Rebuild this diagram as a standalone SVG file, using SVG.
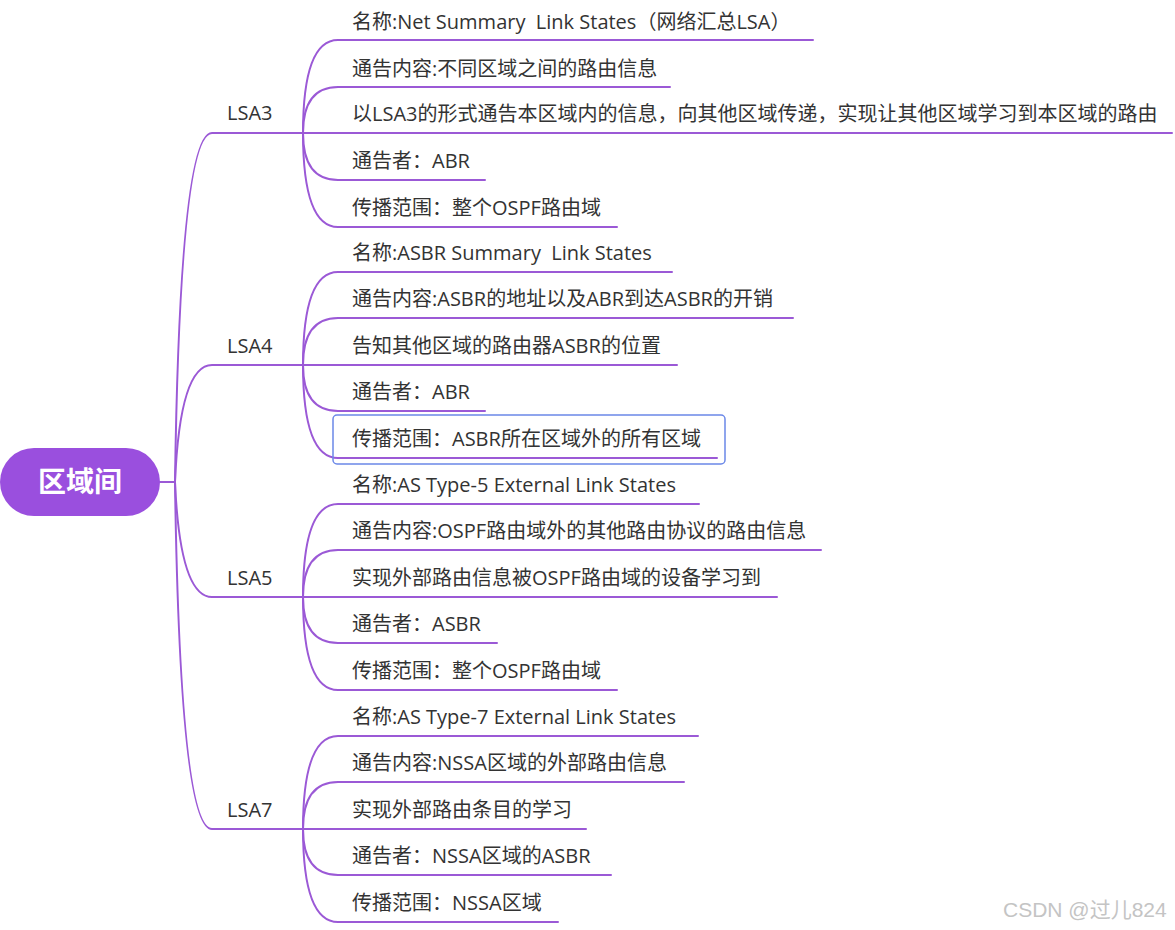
<svg xmlns="http://www.w3.org/2000/svg" width="1175" height="930" viewBox="0 0 1175 930">
<style>
.c{fill:none;stroke:#9b59d6;stroke-width:2;stroke-linecap:round}
.t{font-family:"Open Sans","Noto Sans CJK SC",sans-serif;font-size:20px;fill:#333;white-space:pre}
.r{font-family:"Noto Sans CJK SC",sans-serif;font-size:28px;font-weight:bold;fill:#fff}
.w{font-family:"Liberation Sans","Noto Sans CJK SC",sans-serif;font-size:21px;fill:#c4c4c4}
</style>
<rect width="1175" height="930" fill="#fff"/>
<g id="connectors">
<path class="c" d="M160,482 L175,482"/>
<path class="c" d="M175,482 Q180,133 212,133 L303,133"/>
<path class="c" d="M175,482 Q180,365 212,365 L303,365"/>
<path class="c" d="M175,482 Q180,597 212,597 L303,597"/>
<path class="c" d="M175,482 Q180,829 212,829 L303,829"/>
<path class="c" d="M303,133 Q303,40 338,40 L813,40"/>
<path class="c" d="M303,133 Q303,87 338,87 L670,87"/>
<path class="c" d="M303,133 L1172,133"/>
<path class="c" d="M303,133 Q303,180 338,180 L485,180"/>
<path class="c" d="M303,133 Q303,227 338,227 L617,227"/>
<path class="c" d="M303,365 Q303,272 338,272 L672,272"/>
<path class="c" d="M303,365 Q303,318 338,318 L793,318"/>
<path class="c" d="M303,365 L677,365"/>
<path class="c" d="M303,365 Q303,411 338,411 L485,411"/>
<path class="c" d="M303,365 Q303,458 338,458 L717,458"/>
<path class="c" d="M303,597 Q303,504 338,504 L699,504"/>
<path class="c" d="M303,597 Q303,550 338,550 L821,550"/>
<path class="c" d="M303,597 L777,597"/>
<path class="c" d="M303,597 Q303,643 338,643 L497,643"/>
<path class="c" d="M303,597 Q303,690 338,690 L617,690"/>
<path class="c" d="M303,829 Q303,736 338,736 L698,736"/>
<path class="c" d="M303,829 Q303,782 338,782 L684,782"/>
<path class="c" d="M303,829 L586,829"/>
<path class="c" d="M303,829 Q303,875 338,875 L611,875"/>
<path class="c" d="M303,829 Q303,922 338,922 L558,922"/>
</g>
<g id="root">
<rect x="0" y="448" width="160" height="68" rx="34" fill="#9a4fde"/>
<text class="r" x="80" y="492" text-anchor="middle">区域间</text>
</g>
<g id="lsa3"><text class="t" x="227" y="120">LSA3</text></g>
<g id="lsa4"><text class="t" x="227" y="353">LSA4</text></g>
<g id="lsa5"><text class="t" x="227" y="585">LSA5</text></g>
<g id="lsa7"><text class="t" x="227" y="817">LSA7</text></g>
<g id="lsa3-1"><text class="t" x="352" y="29" xml:space="preserve">名称:Net Summary  Link States（网络汇总LSA）</text></g>
<g id="lsa3-2"><text class="t" x="352" y="76">通告内容:不同区域之间的路由信息</text></g>
<g id="lsa3-3"><text class="t" x="352" y="121">以LSA3的形式通告本区域内的信息，向其他区域传递，实现让其他区域学习到本区域的路由</text></g>
<g id="lsa3-4"><text class="t" x="352" y="168">通告者：ABR</text></g>
<g id="lsa3-5"><text class="t" x="352" y="215">传播范围：整个OSPF路由域</text></g>
<g id="lsa4-1"><text class="t" x="352" y="260" xml:space="preserve">名称:ASBR Summary  Link States</text></g>
<g id="lsa4-2"><text class="t" x="352" y="306">通告内容:ASBR的地址以及ABR到达ASBR的开销</text></g>
<g id="lsa4-3"><text class="t" x="352" y="353">告知其他区域的路由器ASBR的位置</text></g>
<g id="lsa4-4"><text class="t" x="352" y="399">通告者：ABR</text></g>
<g id="lsa4-5"><rect x="333" y="415" width="392" height="49" rx="4" fill="none" stroke="#6b88e8" stroke-width="1.5"/><text class="t" x="352" y="446">传播范围：ASBR所在区域外的所有区域</text></g>
<g id="lsa5-1"><text class="t" x="352" y="492">名称:AS Type-5 External Link States</text></g>
<g id="lsa5-2"><text class="t" x="352" y="538">通告内容:OSPF路由域外的其他路由协议的路由信息</text></g>
<g id="lsa5-3"><text class="t" x="352" y="585">实现外部路由信息被OSPF路由域的设备学习到</text></g>
<g id="lsa5-4"><text class="t" x="352" y="631">通告者：ASBR</text></g>
<g id="lsa5-5"><text class="t" x="352" y="678">传播范围：整个OSPF路由域</text></g>
<g id="lsa7-1"><text class="t" x="352" y="724">名称:AS Type-7 External Link States</text></g>
<g id="lsa7-2"><text class="t" x="352" y="770">通告内容:NSSA区域的外部路由信息</text></g>
<g id="lsa7-3"><text class="t" x="352" y="817">实现外部路由条目的学习</text></g>
<g id="lsa7-4"><text class="t" x="352" y="863">通告者：NSSA区域的ASBR</text></g>
<g id="lsa7-5"><text class="t" x="352" y="910">传播范围：NSSA区域</text></g>
<text class="w" x="1003" y="917">CSDN @过儿824</text>
</svg>
